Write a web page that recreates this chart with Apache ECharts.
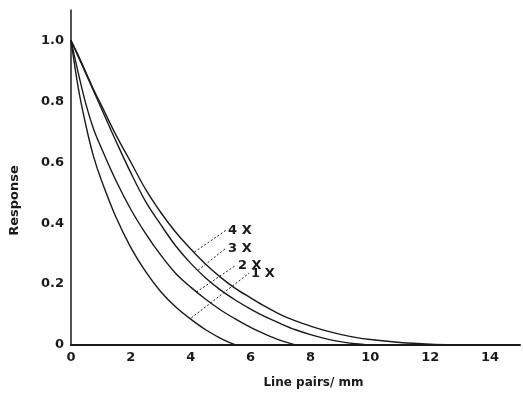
<!DOCTYPE html>
<html>
<head>
<meta charset="utf-8">
<script src="https://cdn.jsdelivr.net/npm/echarts@6/dist/echarts.min.js"></script>
<style>
  html, body { margin: 0; padding: 0; background: #fff; }
  #chart { width: 523px; height: 394px; }
</style>
</head>
<body>
<div id="chart"></div>
<script>
// spatial frequency (line pairs / mm)
const freqs = [0, 0.25, 0.5, 0.75, 1, 1.5, 2, 2.5, 3, 3.5, 4, 4.5, 5, 5.5, 6, 6.5, 7, 7.5, 8, 8.5, 9, 9.5, 10, 11, 12, 13, 14];

// response per magnification
const resp1x = [1, 0.84, 0.72, 0.62, 0.545, 0.42, 0.32, 0.24, 0.175, 0.125, 0.085, 0.05, 0.022, 0];
const resp2x = [1, 0.89, 0.79, 0.71, 0.65, 0.54, 0.445, 0.365, 0.295, 0.235, 0.19, 0.15, 0.115, 0.085, 0.058, 0.035, 0.015, 0];
const resp3x = [1, 0.945, 0.89, 0.835, 0.78, 0.67, 0.565, 0.47, 0.395, 0.325, 0.268, 0.22, 0.18, 0.147, 0.118, 0.092, 0.07, 0.05, 0.034, 0.021, 0.011, 0.004, 0];
const resp4x = [1, 0.95, 0.895, 0.84, 0.79, 0.69, 0.6, 0.51, 0.435, 0.37, 0.315, 0.265, 0.222, 0.185, 0.155, 0.126, 0.1, 0.079, 0.062, 0.047, 0.035, 0.025, 0.018, 0.008, 0.003, 0.001, 0];

// curve labels with leader lines: [start on curve] -> [label point]
const curveLabels = ["4 X", "3 X", "2 X", "1 X"];
const leaderFrom = [[4.12, 0.305], [4.25, 0.246], [4.19, 0.174], [4.02, 0.089]];
const leaderTo = [[5.18, 0.377], [5.18, 0.318], [5.51, 0.262], [5.95, 0.236]];

const xTicks = [0, 2, 4, 6, 8, 10, 12, 14];

const font = "DejaVu Sans";
const ink = "#1a1a1a";

const pairs = (ys) => ys.map((y, i) => [freqs[i], y]);

const chart = echarts.init(document.getElementById("chart"));

const curveSeries = [resp1x, resp2x, resp3x, resp4x].map((ys) => ({
  type: "line",
  data: pairs(ys),
  smooth: 0.35,
  symbol: "none",
  lineStyle: { color: ink, width: 1.4 },
  silent: true,
}));

const leaderSeries = curveLabels.map((name, i) => ({
  type: "line",
  data: [leaderFrom[i], leaderTo[i]],
  symbol: "none",
  lineStyle: { color: ink, width: 1, type: [2, 2] },
  silent: true,
}));

const labelSeries = {
  type: "scatter",
  symbolSize: 0,
  itemStyle: { opacity: 1 },
  data: curveLabels.map((name, i) => ({ value: leaderTo[i], name })),
  label: {
    show: true,
    position: "right",
    distance: 2,
    formatter: (p) => p.name,
    color: ink,
    fontFamily: font,
    fontWeight: "bold",
    fontSize: 13,
  },
  silent: true,
};

const option = {
  animation: false,
  backgroundColor: "#fff",
  grid: { left: 69, right: 3, top: 10, bottom: 49 },
  xAxis: {
    type: "value",
    min: 0,
    max: 15,
    interval: 2,
    name: "Line pairs/ mm",
    nameLocation: "middle",
    nameGap: 32,
    nameTextStyle: {
      color: ink, fontFamily: font, fontWeight: "bold", fontSize: 12,
      padding: [0, 0, 0, 36],
    },
    axisLine: { lineStyle: { color: ink, width: 2 } },
    axisTick: { show: false },
    splitLine: { show: false },
    axisLabel: {
      color: ink,
      fontFamily: font,
      fontWeight: "bold",
      fontSize: 13,
      margin: 6,
      formatter: (v) => (xTicks.includes(v) ? String(v) : ""),
    },
  },
  yAxis: {
    type: "value",
    min: 0,
    max: 1.1,
    interval: 0.2,
    name: "Response",
    nameLocation: "middle",
    nameGap: 50,
    nameRotate: 90,
    nameTextStyle: {
      color: ink, fontFamily: font, fontWeight: "bold", fontSize: 13,
      padding: [0, 46, 0, 0],
    },
    axisLine: { show: true, lineStyle: { color: ink, width: 1.5 } },
    axisTick: { show: false },
    splitLine: { show: false },
    axisLabel: {
      color: ink,
      fontFamily: font,
      fontWeight: "bold",
      fontSize: 13,
      margin: 7,
      formatter: (v) => (v === 0 ? "0" : v > 1.05 ? "" : v.toFixed(1)),
    },
  },
  series: [...curveSeries, ...leaderSeries, labelSeries],
};

chart.setOption(option);
</script>
</body>
</html>
